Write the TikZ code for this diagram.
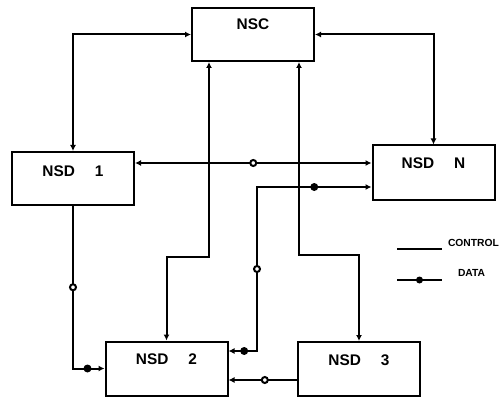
\documentclass[tikz,border=0pt]{standalone}
\usepackage{fontspec}
\setmainfont{Liberation Sans}
\usetikzlibrary{arrows.meta}

\begin{document}
\begin{tikzpicture}[x=1pt, y=-1pt, line width=2pt,
    >={Latex[length=6pt,width=6pt]},
    nsdbox/.style={draw, minimum width=122pt, text height=11pt, text depth=19pt,
        inner ysep=12pt, font=\fontsize{15.4}{18}\selectfont\bfseries},
    dot/.style={circle, fill, inner sep=0pt, minimum size=8pt},
    ring/.style={circle, draw, fill=white, inner sep=0pt, minimum size=6pt},
    legendtext/.style={anchor=west, inner sep=0pt, font=\fontsize{10.3}{12}\selectfont\bfseries}]
    \useasboundingbox (0,0) rectangle (500,398);

    % units
    \node (nsc)  [nsdbox, text depth=20pt, inner ysep=11pt] at (253,34.5) {NSC};
    \node (nsd1) [nsdbox, inner ysep=13pt, text depth=16pt] at (73,178.5) {NSD\hspace{1.3em}1};
    \node (nsdn) [nsdbox] at (433.5,172.5) {NSD\hspace{1.3em}N};
    \node (nsd2) [nsdbox] at (166.5,368.5) {NSD\hspace{1.3em}2};
    \node (nsd3) [nsdbox] at (359,369) {NSD\hspace{1.3em}3};

    % bends of the links
    \coordinate (bus)  at (252,163);
    \coordinate (c2a)  at (209,257);
    \coordinate (c3a)  at (299,255);
    \coordinate (d2a)  at (257,351);
    \coordinate (d2b)  at (257,187);
    \coordinate (d3a)  at (265,380);

    % control
    \draw [<->] (nsc.west) -| (nsd1.north);
    \draw [<->] (nsc.east) -| (nsdn.north);
    \draw [<->] (nsc.south -| c2a) -- (c2a) -| (nsd2.north);
    \draw [<->] (nsc.south -| c3a) -- (c3a) -| (nsd3.north);

    % data
    \draw [<->] (nsd1.east |- bus) -- node[ring] {} (nsdn.west |- bus);
    \draw [->] (nsd1.south) |- node[ring, pos=0.25] {} node[dot, pos=0.73] {} (nsd2.west);
    \draw [<->] (nsd2.east |- d2a) -- node[dot, pos=0.55] {} (d2a)
        -- node[ring] {} (d2b) -- node[dot] {} (nsdn.west |- d2b);
    \draw [->] (nsd3.west |- d3a) -- node[ring, pos=0.47] {} (nsd2.east |- d3a);

    % legend
    \draw (397,249) -- (442,249);
    \node (ctrl) [legendtext] at (447,243) {CONTROL};
    \draw (397,280) -- node[dot, minimum size=7pt] {} (442,280);
    \node (data) [legendtext] at (457,273) {DATA};
\end{tikzpicture}
\end{document}
